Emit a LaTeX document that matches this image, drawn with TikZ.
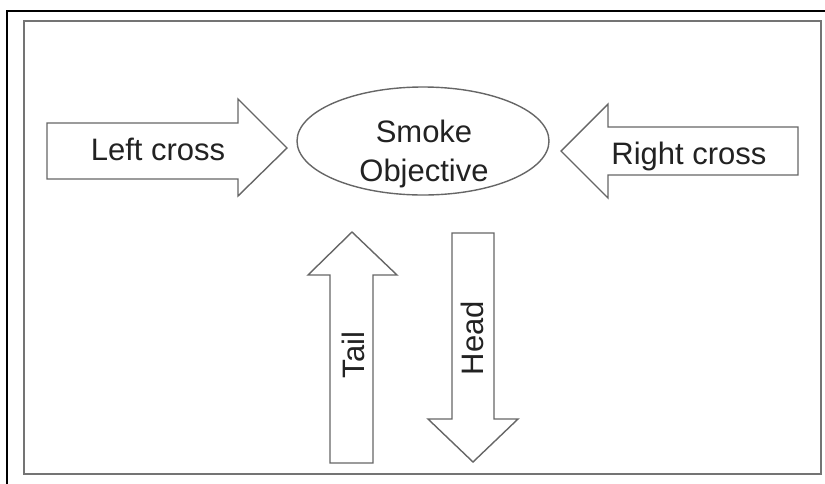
\documentclass[tikz,border=0pt]{standalone}
\usepackage{fontspec}
\setmainfont{Liberation Sans}
\usetikzlibrary{shapes.geometric}
\definecolor{edgegray}{HTML}{666666}
\definecolor{framegray}{HTML}{747474}
\definecolor{textgray}{HTML}{222222}
\begin{document}
\begin{tikzpicture}[x=1pt, y=-1pt,
    blockarrow/.style={draw=edgegray, line width=1.4pt, fill=white, line join=miter},
    arrowtext/.style={font=\fontsize{31}{39}\selectfont, text=textgray, inner sep=0pt},
    goal/.style={draw=edgegray, line width=1.4pt, ellipse, minimum width=252pt, minimum height=108pt, inner sep=0pt}]
        % Page: 825 x 483, one unit = one pixel, y runs downwards
        \useasboundingbox (0,0) rectangle (825,483);
        \clip (0,0) rectangle (825,483);

        % Outer frame (cut off at right and bottom)
        \draw[black, line width=2.6pt] (7,490) -- (7,11) -- (830,11);
        % Inner frame
        \draw[framegray, line width=2.6pt] (24,21) rectangle (821,474);

        % Objective in the middle
        \node[goal] (smoke) at (423,141) {};
        \node[arrowtext, align=center] (smoketext) at (424,154) {Smoke\\Objective};

        % Left cross: pointing right
        \draw[blockarrow] (47,123) -- (238,123) -- (238,99) -- (287,148)
            -- (238,196) -- (238,179) -- (47,179) -- cycle;
        \node[arrowtext, anchor=base] (lefttext) at (158,160) {Left cross};

        % Right cross: pointing left
        \draw[blockarrow] (561,151) -- (608,104) -- (608,127) -- (798,127)
            -- (798,175) -- (608,175) -- (608,198) -- cycle;
        \node[arrowtext, anchor=base] (righttext) at (689,164) {Right cross};

        % Tail: pointing up
        \draw[blockarrow] (352,232) -- (397,275) -- (373,275) -- (373,463)
            -- (330,463) -- (330,275) -- (308,275) -- cycle;
        \node[arrowtext, rotate=90] (tailtext) at (353,355) {Tail};

        % Head: pointing down
        \draw[blockarrow] (452,233) -- (494,233) -- (494,419) -- (518,419)
            -- (473,462) -- (428,419) -- (452,419) -- cycle;
        \node[arrowtext, rotate=90] (headtext) at (472,338) {Head};
    \end{tikzpicture}
\end{document}
